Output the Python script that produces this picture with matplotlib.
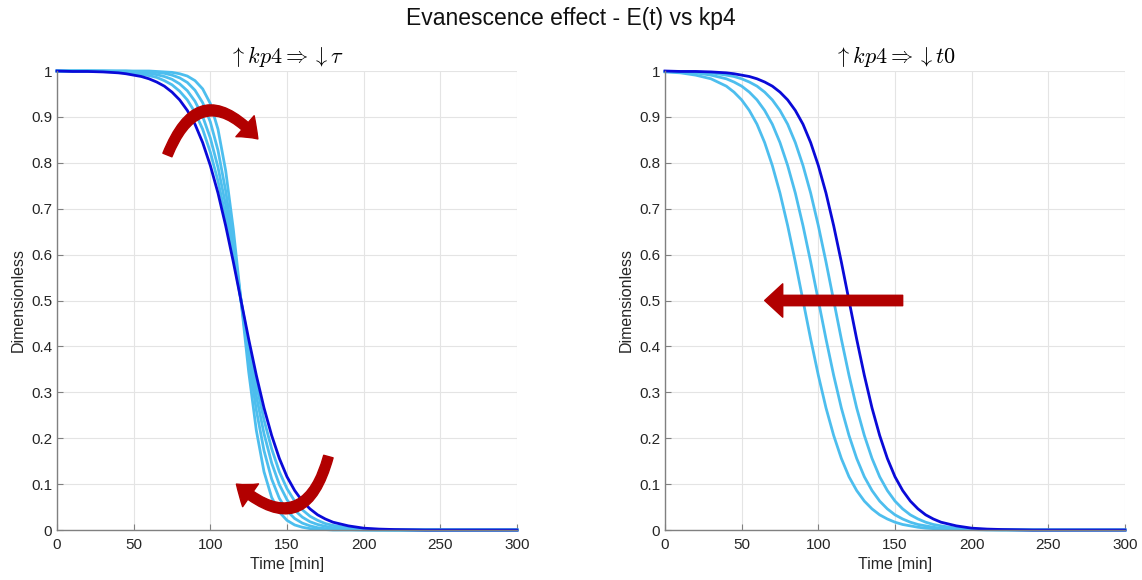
import numpy as np
import matplotlib
matplotlib.use('Agg')
import matplotlib.pyplot as plt
from matplotlib.patches import FancyArrowPatch

plt.rcParams['font.family'] = ['Liberation Sans', 'DejaVu Sans']
plt.rcParams['mathtext.fontset'] = 'cm'

# time [min]
t = [0, 10, 20, 30, 40, 45, 50, 55, 60, 65,
     70, 75, 80, 85, 90, 95, 100, 105, 110, 115,
     120, 125, 130, 135, 140, 145, 150, 155, 160, 165,
     170, 175, 180, 190, 200, 210, 220, 240, 260, 280,
     300]

# reference E(t) (dark blue, same in both panels)
e_ref = [1.000, 0.999, 0.999, 0.998, 0.996, 0.994, 0.991, 0.988, 0.983, 0.976,
         0.967, 0.954, 0.937, 0.914, 0.884, 0.844, 0.794, 0.734, 0.663, 0.584,
         0.500, 0.416, 0.337, 0.266, 0.206, 0.156, 0.116, 0.086, 0.063, 0.046,
         0.033, 0.024, 0.017, 0.009, 0.004, 0.002, 0.001, 0.000, 0.000, 0.000,
         0.000]

# left panel: increasing kp4 -> smaller tau
tau_1 = [1.000, 1.000, 1.000, 0.999, 0.998, 0.997, 0.995, 0.993, 0.990, 0.986,
         0.979, 0.970, 0.956, 0.937, 0.910, 0.873, 0.823, 0.760, 0.683, 0.595,
         0.500, 0.405, 0.317, 0.240, 0.177, 0.127, 0.090, 0.063, 0.044, 0.030,
         0.021, 0.014, 0.010, 0.005, 0.002, 0.001, 0.000, 0.000, 0.000, 0.000,
         0.000]
tau_2 = [1.000, 1.000, 1.000, 1.000, 0.999, 0.999, 0.998, 0.997, 0.995, 0.992,
         0.988, 0.982, 0.972, 0.957, 0.934, 0.901, 0.854, 0.790, 0.708, 0.609,
         0.500, 0.391, 0.292, 0.210, 0.146, 0.099, 0.066, 0.043, 0.028, 0.018,
         0.012, 0.008, 0.005, 0.002, 0.001, 0.000, 0.000, 0.000, 0.000, 0.000,
         0.000]
tau_3 = [1.000, 1.000, 1.000, 1.000, 1.000, 1.000, 0.999, 0.999, 0.998, 0.997,
         0.995, 0.991, 0.985, 0.975, 0.958, 0.931, 0.889, 0.827, 0.739, 0.627,
         0.500, 0.373, 0.261, 0.173, 0.111, 0.069, 0.042, 0.025, 0.015, 0.009,
         0.005, 0.003, 0.002, 0.001, 0.000, 0.000, 0.000, 0.000, 0.000, 0.000,
         0.000]
tau_4 = [1.000, 1.000, 1.000, 1.000, 1.000, 1.000, 1.000, 1.000, 1.000, 0.999,
         0.998, 0.997, 0.994, 0.989, 0.979, 0.961, 0.929, 0.873, 0.783, 0.655,
         0.500, 0.345, 0.217, 0.127, 0.071, 0.039, 0.021, 0.011, 0.006, 0.003,
         0.002, 0.001, 0.000, 0.000, 0.000, 0.000, 0.000, 0.000, 0.000, 0.000,
         0.000]

# right panel: increasing kp4 -> smaller t0
t0_1 = [0.998, 0.996, 0.991, 0.983, 0.967, 0.954, 0.937, 0.914, 0.884, 0.844,
        0.794, 0.734, 0.663, 0.584, 0.500, 0.416, 0.337, 0.266, 0.206, 0.156,
        0.116, 0.086, 0.063, 0.046, 0.033, 0.024, 0.017, 0.012, 0.009, 0.006,
        0.004, 0.003, 0.002, 0.001, 0.001, 0.000, 0.000, 0.000, 0.000, 0.000,
        0.000]
t0_2 = [0.999, 0.998, 0.996, 0.991, 0.983, 0.976, 0.967, 0.954, 0.937, 0.914,
        0.884, 0.844, 0.794, 0.734, 0.663, 0.584, 0.500, 0.416, 0.337, 0.266,
        0.206, 0.156, 0.116, 0.086, 0.063, 0.046, 0.033, 0.024, 0.017, 0.012,
        0.009, 0.006, 0.004, 0.002, 0.001, 0.001, 0.000, 0.000, 0.000, 0.000,
        0.000]
t0_3 = [0.999, 0.999, 0.998, 0.996, 0.991, 0.988, 0.983, 0.976, 0.967, 0.954,
        0.937, 0.914, 0.884, 0.844, 0.794, 0.734, 0.663, 0.584, 0.500, 0.416,
        0.337, 0.266, 0.206, 0.156, 0.116, 0.086, 0.063, 0.046, 0.033, 0.024,
        0.017, 0.012, 0.009, 0.004, 0.002, 0.001, 0.001, 0.000, 0.000, 0.000,
        0.000]

light = '#4DBEEE'
dark = '#0a0ad8'
red = '#b20000'

fig = plt.figure(figsize=(11.42, 5.8), dpi=100)
ax1 = fig.add_axes([57/1142, 50/580, 460/1142, 459/580])
ax2 = fig.add_axes([665/1142, 50/580, 460/1142, 459/580])

for ax in (ax1, ax2):
    ax.set_xlim(0, 300)
    ax.set_ylim(0, 1)
    ax.set_xticks(np.arange(0, 301, 50))
    ax.set_yticks(np.arange(0, 1.01, 0.1))
    ax.set_yticklabels(['0', '0.1', '0.2', '0.3', '0.4', '0.5', '0.6', '0.7', '0.8', '0.9', '1'])
    ax.grid(True, color='#e4e4e4', lw=0.8)
    ax.set_axisbelow(True)
    for s in ('top', 'right'):
        ax.spines[s].set_visible(False)
    for s in ('left', 'bottom'):
        ax.spines[s].set_color('#808080')
        ax.spines[s].set_linewidth(1.0)
    ax.tick_params(direction='in', length=4, width=0.8, color='#808080',
                   labelcolor='#262626', labelsize=11)
    ax.tick_params(axis='x', pad=6)
    ax.set_xlabel('Time [min]', fontsize=11.5, color='#262626', labelpad=3)
    ax.set_ylabel('Dimensionless', fontsize=11.5, color='#262626')

for y in (tau_1, tau_2, tau_3, tau_4):
    ax1.plot(t, y, color=light, lw=2, clip_on=False)
ax1.plot(t, e_ref, color=dark, lw=2, clip_on=False)

for y in (t0_1, t0_2, t0_3):
    ax2.plot(t, y, color=light, lw=2, clip_on=False)
ax2.plot(t, e_ref, color=dark, lw=2, clip_on=False)

ax1.set_title(r'$\uparrow kp4 \Rightarrow \downarrow \tau$', fontsize=16, pad=6)
ax2.set_title(r'$\uparrow kp4 \Rightarrow \downarrow t0$', fontsize=16, pad=6)
fig.text(0.5, 1 - 18/580, 'Evanescence effect - E(t) vs kp4', ha='center', va='center',
         fontsize=16.5, color='#111111')

# red curved arrows on the left panel
curve_style = 'simple,head_length=1.3,head_width=2.0,tail_width=0.7'
ax1.add_patch(FancyArrowPatch((72, 0.817), (131, 0.852), connectionstyle='arc3,rad=-0.8',
                              arrowstyle=curve_style, mutation_scale=10, color=red,
                              shrinkA=0, shrinkB=0, zorder=5))
ax1.add_patch(FancyArrowPatch((177, 0.160), (117, 0.100), connectionstyle='arc3,rad=-0.8',
                              arrowstyle=curve_style, mutation_scale=10, color=red,
                              shrinkA=0, shrinkB=0, zorder=5))
# straight arrow on the right panel
ax2.add_patch(FancyArrowPatch((155, 0.5), (65, 0.5),
                              arrowstyle='simple,head_length=1.3,head_width=2.4,tail_width=0.75',
                              mutation_scale=10, color=red, shrinkA=0, shrinkB=0, zorder=5))

fig.savefig('out.png', dpi=100)
